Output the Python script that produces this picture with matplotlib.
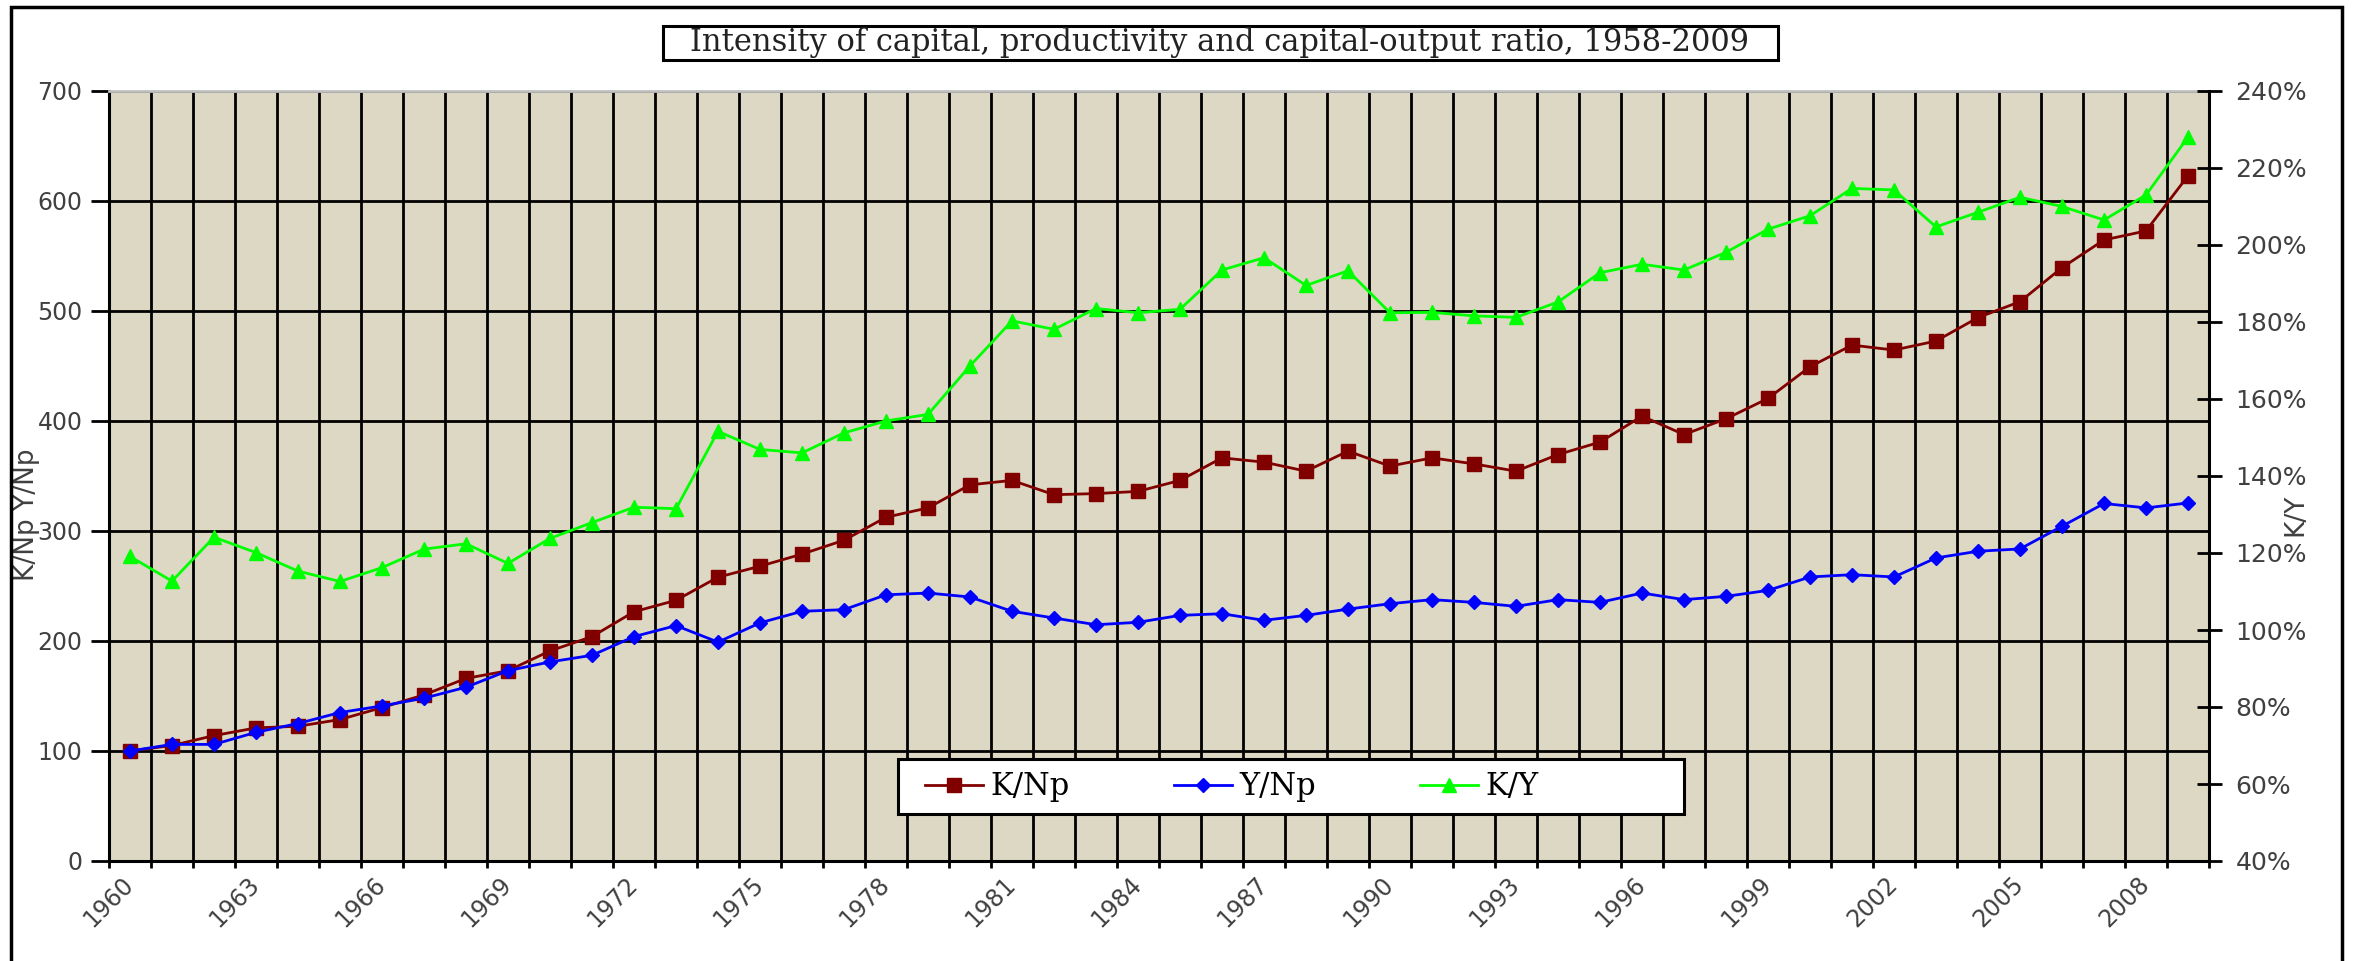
import numpy as np
import matplotlib.pyplot as plt
import matplotlib.patches as patches
from matplotlib.ticker import FixedLocator, FuncFormatter

# data
years = list(range(1960, 2010))
k_np = [100, 105, 114, 121, 122.5, 128.6, 139.5, 151, 166, 173,
        191, 204, 226.6, 237, 258, 268, 279, 291.6, 312.5, 321,
        342, 346, 333, 334, 336, 346, 366.5, 362.6, 354.4, 372.6,
        359, 366.5, 361, 354.4, 369.5, 380.8, 404.4, 387.7, 402, 420.5,
        449.3, 469, 464.5, 472.7, 494, 508.5, 539.4, 564.6, 572.8, 622.9]
y_np = [100, 106, 106, 117, 125, 135, 141, 148, 158, 173,
        181, 187, 204, 214, 199, 216.5, 227, 228.5, 242, 243.6,
        240, 227, 220.9, 214.8, 217, 223.3, 224.8, 218.8, 223.3, 229,
        233.9, 237.6, 235.1, 231.5, 237.6, 235.1, 243.6, 237.6, 240.6, 246,
        258.2, 260.3, 258.2, 275.5, 281.6, 283.7, 304.3, 325, 321, 325.5]
k_y = [119.1, 112.7, 124.1, 120.1, 115.3, 112.6, 116.2, 121, 122.4, 117.3,
       123.8, 127.9, 131.9, 131.5, 151.6, 146.9, 146, 151.2, 154.3, 156,
       168.6, 180.3, 178.1, 183.5, 182.4, 183.3, 193.5, 196.7, 189.5, 193.3,
       182.4, 182.5, 181.6, 181.2, 185.2, 192.8, 195, 193.5, 198.1, 204.1,
       207.6, 214.7, 214.3, 204.7, 208.5, 212.4, 210, 206.5, 213, 228]
left_ticks = [0, 100, 200, 300, 400, 500, 600, 700]
right_ticks = [40, 60, 80, 100, 120, 140, 160, 180, 200, 220, 240]
title = 'Intensity of capital, productivity and capital-output ratio, 1958-2009'

W, H = 2356, 961
fig = plt.figure(figsize=(W / 100, H / 100), dpi=100)
fig.patch.set_facecolor('white')

ax = fig.add_axes([109 / W, 1 - 861 / H, (2209 - 109) / W, (861 - 91) / H])
ax.set_facecolor('#DDD8C3')
x = np.arange(len(years))

tick_col = '#404040'
l1, = ax.plot(x, k_np, color='#800000', marker='s', markersize=10, lw=2,
              label='K/Np', zorder=3)
l2, = ax.plot(x, y_np, color='#0000FF', marker='D', markersize=7, lw=2,
              label='Y/Np', zorder=3)
ax.set_xlim(-0.5, len(years) - 0.5)
ax.set_ylim(0, 700)
ax.set_yticks(left_ticks)

# vertical gridlines on category boundaries, labels every 3 years
bounds = np.arange(len(years) + 1) - 0.5
ax.xaxis.set_major_locator(FixedLocator(bounds))
ax.xaxis.set_major_formatter(FuncFormatter(lambda v, p: ''))
lab_pos = x[::3]
ax.xaxis.set_minor_locator(FixedLocator(lab_pos + 0.2))
ax.xaxis.set_minor_formatter(FuncFormatter(lambda v, p: str(years[int(round(v - 0.2))])))
ax.tick_params(axis='x', which='major', direction='out', length=5, width=2, color='black')
ax.tick_params(axis='x', which='minor', length=0, pad=8, labelsize=17, labelcolor=tick_col,
               labelrotation=45)
for t in ax.xaxis.get_minorticklabels():
    t.set_ha('right')
ax.tick_params(axis='y', direction='out', length=13, width=2, pad=6, labelsize=17,
               labelcolor=tick_col)
ax.grid(True, axis='both', which='major', color='black', lw=2.0)
ax.set_axisbelow(True)
for s in ['left', 'bottom']:
    ax.spines[s].set_color('black')
    ax.spines[s].set_linewidth(2.2)
ax.spines['top'].set_color('#C0C0C0')
ax.spines['top'].set_linewidth(2)
ax.spines['right'].set_visible(False)
ax.set_ylabel('K/Np Y/Np', fontsize=19, color=tick_col)
ax.yaxis.set_label_coords(-0.033, 0.45)

ax2 = ax.twinx()
l3, = ax2.plot(x, k_y, color='#00FF00', marker='^', markersize=10, lw=2,
               label='K/Y', zorder=3)
ax2.set_ylim(40, 240)
ax2.set_yticks(right_ticks)
ax2.yaxis.set_major_formatter(FuncFormatter(lambda v, p: f'{v:.0f}%'))
ax2.tick_params(axis='y', direction='inout', length=18, width=2, pad=10, labelsize=18,
                labelcolor=tick_col)
ax2.spines['right'].set_color('black')
ax2.spines['right'].set_linewidth(2.2)
for s in ['left', 'top', 'bottom']:
    ax2.spines[s].set_visible(False)
ax2.set_ylabel('K/Y', fontsize=19, color=tick_col, rotation=90)
ax2.yaxis.set_label_coords(1.035, 0.45)

# legend: white box drawn separately so it can be wider than the entries
ax2.add_patch(patches.Rectangle((898 / W, 1 - 814 / H), (1684 - 898) / W, 55 / H,
                                transform=fig.transFigure, fc='white', ec='black',
                                lw=2.2, zorder=4.5, clip_on=False))
leg = ax2.legend([l1, l2, l3], ['K/Np', 'Y/Np', 'K/Y'], ncol=3, loc='center',
                 bbox_to_anchor=(1232 / W, 1 - 787 / H), bbox_transform=fig.transFigure,
                 frameon=False, prop={'family': 'DejaVu Serif', 'size': 22},
                 handlelength=1.9, columnspacing=3.4, borderpad=0.4, handletextpad=0.25)

# title in a box
fig.patches.append(patches.Rectangle((663 / W, 1 - 60 / H), (1778 - 663) / W, 34 / H,
                                     transform=fig.transFigure, fc='white', ec='black',
                                     lw=2.2))
fig.text(1220 / W, 1 - 43 / H, title, ha='center', va='center', fontsize=22,
         family='DejaVu Serif', color='#222222')

# outer chart border
fig.patches.append(patches.Rectangle((11 / W, -0.01), (2342 - 11) / W, 1.0027,
                                     transform=fig.transFigure, fill=False,
                                     ec='black', lw=2.5))

fig.savefig('out.png', dpi=100)
